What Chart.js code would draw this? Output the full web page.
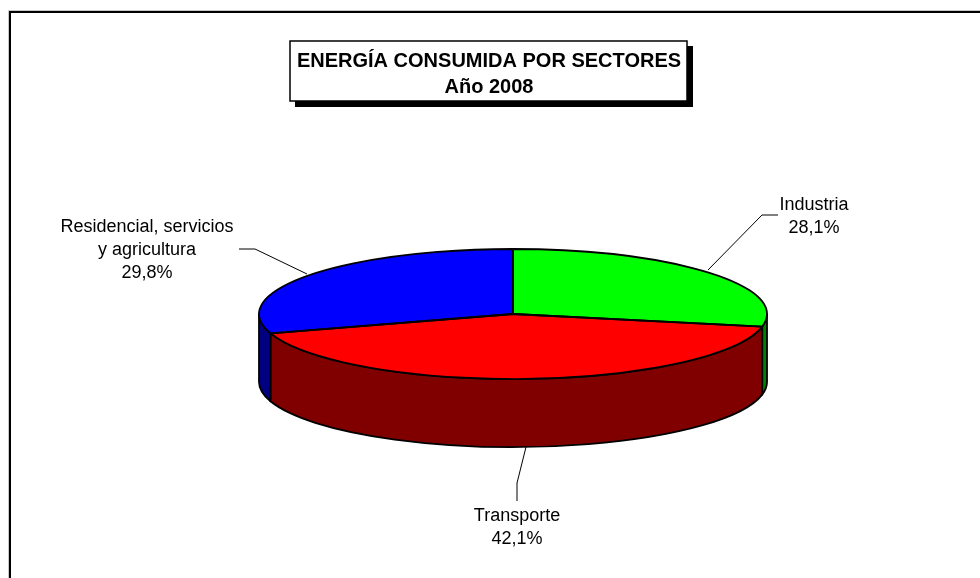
<!DOCTYPE html>
<html><head><meta charset="utf-8">
<script src="https://cdn.jsdelivr.net/npm/chart.js@4/dist/chart.umd.min.js"></script>
<style>html,body{margin:0;padding:0;background:#fff;}canvas{display:block}</style>
</head><body>
<canvas id="c" width="980" height="578"></canvas>
<script>
const titleLines = ['ENERGÍA CONSUMIDA POR SECTORES', 'Año 2008'];
const categories = ['Industria', 'Transporte', 'Residencial, servicios y agricultura'];
const labelLines = [['Industria'], ['Transporte'], ['Residencial, servicios', 'y agricultura']];
const shares = [28.1, 42.1, 29.8];
const percentLabels = ['28,1%', '42,1%', '29,8%'];
const topColors = ['#00FF00', '#FF0000', '#0000FF'];
const sideColors = ['#008000', '#800000', '#000080'];

const SQUASH = 65 / 254;   // vertical tilt of the pie
const DEPTH = 68;          // thickness of the pie
const FONT = '"Liberation Sans", Arial, sans-serif';

// label layout: text centre x, first line y, leader polyline
const labelLayout = [
  {x: 814, y: 205, leader: [[778, 215], [762, 215], [708, 270]]},
  {x: 517, y: 516, leader: [[517, 501], [517, 483], [526, 447]]},
  {x: 147, y: 227, leader: [[239, 249], [255, 249], [307, 274]]}
];

function arcGeom(arc) {
  const p = arc.getProps(['x', 'y', 'startAngle', 'endAngle', 'outerRadius'], true);
  return {x: p.x, y: p.y, s: p.startAngle, e: p.endAngle, R: p.outerRadius, ry: p.outerRadius * SQUASH};
}

const pie3d = {
  id: 'pie3d',
  beforeDatasetsDraw(chart) {
    const ctx = chart.ctx;
    const arcs = chart.getDatasetMeta(0).data;
    ctx.save();
    ctx.lineWidth = 1.8;
    ctx.strokeStyle = '#000';
    ctx.lineJoin = 'round';
    arcs.forEach((arc, i) => {
      const g = arcGeom(arc);
      const a0 = Math.max(g.s, 0), a1 = Math.min(g.e, Math.PI);
      if (a1 <= a0) return;
      ctx.beginPath();
      ctx.moveTo(g.x + g.R * Math.cos(a0), g.y + g.ry * Math.sin(a0));
      ctx.ellipse(g.x, g.y, g.R, g.ry, 0, a0, a1, false);
      ctx.lineTo(g.x + g.R * Math.cos(a1), g.y + g.ry * Math.sin(a1) + DEPTH);
      ctx.ellipse(g.x, g.y + DEPTH, g.R, g.ry, 0, a1, a0, true);
      ctx.closePath();
      ctx.fillStyle = sideColors[i];
      ctx.fill();
      ctx.stroke();
    });
    ctx.restore();
  },
  beforeDatasetDraw(chart) {
    const ctx = chart.ctx;
    const g = arcGeom(chart.getDatasetMeta(0).data[0]);
    ctx.save();
    ctx.translate(g.x, g.y);
    ctx.scale(1, SQUASH);
    ctx.translate(-g.x, -g.y);
  },
  afterDatasetDraw(chart) {
    chart.ctx.restore();
  },
  afterDatasetsDraw(chart) {
    const ctx = chart.ctx;
    const arcs = chart.getDatasetMeta(0).data;
    ctx.save();
    ctx.lineWidth = 1.8;
    ctx.strokeStyle = '#000';
    ctx.lineJoin = 'round';
    arcs.forEach(arc => {
      const g = arcGeom(arc);
      ctx.beginPath();
      ctx.moveTo(g.x, g.y);
      ctx.lineTo(g.x + g.R * Math.cos(g.s), g.y + g.ry * Math.sin(g.s));
      ctx.ellipse(g.x, g.y, g.R, g.ry, 0, g.s, g.e, false);
      ctx.closePath();
      ctx.stroke();
    });
    ctx.restore();
  },
  afterDraw(chart) {
    const ctx = chart.ctx;
    ctx.save();
    // outer frame
    ctx.strokeStyle = '#c8c8c8';
    ctx.lineWidth = 1;
    ctx.beginPath();
    ctx.moveTo(8.5, 578); ctx.lineTo(8.5, 10.5); ctx.lineTo(980, 10.5);
    ctx.stroke();
    ctx.strokeStyle = '#000';
    ctx.lineWidth = 2;
    ctx.beginPath();
    ctx.moveTo(10, 578); ctx.lineTo(10, 12); ctx.lineTo(980, 12);
    ctx.stroke();

    // title box with shadow
    ctx.fillStyle = '#000';
    ctx.fillRect(295, 46, 398, 61);
    ctx.fillStyle = '#fff';
    ctx.fillRect(290, 41, 397, 60);
    ctx.lineWidth = 1.5;
    ctx.strokeRect(290, 41, 397, 60);
    ctx.fillStyle = '#000';
    ctx.textAlign = 'center';
    ctx.textBaseline = 'middle';
    ctx.font = 'bold 20px ' + FONT;
    ctx.fillText(titleLines[0], 489, 61);
    ctx.fillText(titleLines[1], 489, 87);

    // data labels with leader lines
    ctx.font = '18px ' + FONT;
    ctx.lineWidth = 1;
    categories.forEach((c, i) => {
      const L = labelLayout[i];
      const lines = labelLines[i].concat([percentLabels[i]]);
      lines.forEach((t, j) => ctx.fillText(t, L.x, L.y + j * 23));
      ctx.beginPath();
      L.leader.forEach((p, j) => j ? ctx.lineTo(p[0], p[1]) : ctx.moveTo(p[0], p[1]));
      ctx.stroke();
    });
    ctx.restore();
  }
};

new Chart(document.getElementById('c'), {
  type: 'pie',
  data: {
    labels: categories,
    datasets: [{
      data: shares,
      backgroundColor: topColors,
      borderWidth: 0
    }]
  },
  options: {
    responsive: false,
    animation: false,
    radius: 254,
    rotation: 0,
    layout: {padding: {left: 46, right: 0, top: 50, bottom: 0}},
    plugins: {legend: {display: false}, tooltip: {enabled: false}, title: {display: false}}
  },
  plugins: [pie3d]
});
</script>
</body></html>
